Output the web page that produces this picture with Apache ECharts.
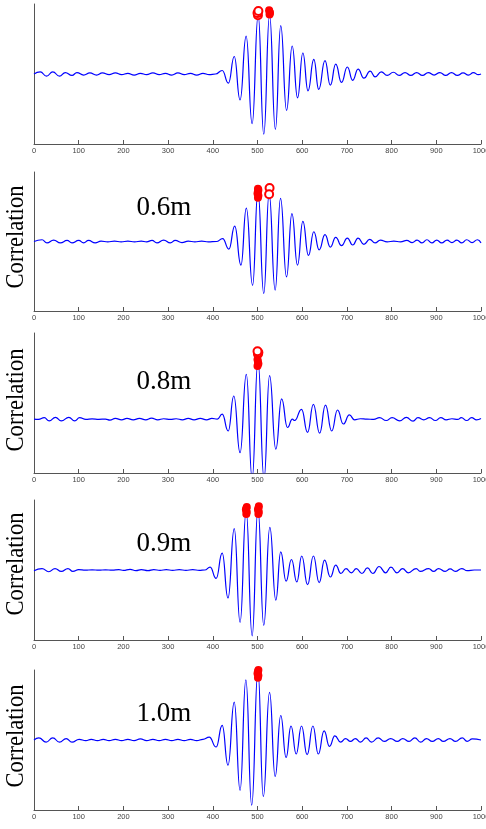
<!DOCTYPE html>
<html>
<head>
<meta charset="utf-8">
<script src="https://cdn.jsdelivr.net/npm/echarts@6/dist/echarts.min.js"></script>
<style>
html,body{margin:0;padding:0;background:#fff;}
#chart{width:486px;height:829px;}
</style>
</head>
<body>
<div id="chart"></div>
<script>
// panel labels
var panelLabels = ['', '0.6m', '0.8m', '0.9m', '1.0m'];
var xTicks = [0, 100, 200, 300, 400, 500, 600, 700, 800, 900, 1000];

// correlation curves, [lag, value]
var waveTop = [[0,0],[14,0.03],[28,-0.03],[42,0.03],[57,-0.03],[70,0.02],[85,-0.02],[96,0.02],[111,-0.015],[125,0.015],[140,-0.015],[153,0.015],[168,-0.01],[182,0.015],[196,-0.01],[210,0.01],[224,-0.015],[238,0.01],[252,-0.01],[266,0.015],[280,-0.01],[294,0.01],[308,-0.015],[322,0.015],[336,-0.01],[350,0.01],[364,-0.015],[378,0.01],[392,-0.01],[406,0],[421,0.05],[435,-0.13],[448,0.25],[461,-0.37],[474.6,0.54],[488,-0.71],[501.5,0.84],[514,-0.86],[527,0.84],[540,-0.79],[552,0.69],[565,-0.52],[577.6,0.40],[589.6,-0.34],[601.5,0.30],[613,-0.24],[626,0.21],[637,-0.22],[651,0.19],[663,-0.16],[675,0.14],[688,-0.12],[701,0.10],[713,-0.09],[725,0.07],[738,-0.06],[752,0.04],[763,-0.04],[777,0.03],[790,-0.02],[804,0.025],[817,-0.02],[830,0.02],[843,-0.02],[856,0.02],[869,-0.02],[882,0.02],[895,-0.015],[908,0.02],[921,-0.02],[934,0.02],[947,-0.02],[960,0.015],[972,-0.015],[983,0.02],[994,-0.01],[1000,0]];
var wave06 = [[0,0],[18,0.025],[29,-0.02],[44,0.02],[59,-0.02],[74,0.015],[85,-0.02],[100,0.015],[111,-0.02],[122,0.015],[137,-0.02],[150,0.005],[165,-0.005],[180,0.005],[195,-0.005],[210,0.005],[225,-0.005],[240,0.005],[252,-0.005],[264,0.015],[275,-0.02],[290,0.02],[305,-0.02],[316,0.015],[331,-0.015],[345,0.005],[360,-0.005],[375,0.005],[390,-0.005],[408,0],[422,0.04],[436,-0.11],[449,0.22],[463,-0.34],[475,0.48],[489,-0.63],[501,0.72],[514,-0.75],[526,0.69],[539.5,-0.70],[551.5,0.62],[565,-0.51],[577,0.40],[589.5,-0.34],[601.5,0.29],[614,-0.20],[626,0.14],[638,-0.12],[651,0.10],[663,-0.08],[675,0.06],[688,-0.06],[701,0.05],[713,-0.05],[725,0.05],[738,-0.04],[751,0.03],[763,-0.02],[775,0.02],[790,-0.005],[805,0.005],[820,-0.005],[834,0.015],[846,-0.015],[857,0.02],[868,-0.02],[879,0.025],[890,-0.02],[901,0.02],[912,-0.02],[924,0.02],[935,-0.015],[946,0.02],[957,-0.02],[968,0.025],[980,-0.015],[992,0.025],[1000,-0.02]];
var wave08 = [[0,0],[10,-0.005],[23,0.02],[34,-0.025],[48,0.025],[61,-0.025],[78,0.025],[91,-0.025],[102,0.02],[116,-0.005],[130,0.003],[145,-0.003],[160,0],[170,-0.015],[182,0.01],[196,-0.01],[208,0.01],[222,-0.01],[236,0.01],[250,-0.01],[263,0.015],[277,-0.01],[290,0.005],[305,-0.005],[318,0.005],[332,-0.01],[345,0.01],[358,-0.01],[372,0.01],[386,-0.01],[398,0.01],[410,0],[421,0.07],[434.5,-0.17],[447,0.33],[461,-0.48],[475,0.64],[488,-0.85],[501,0.83],[514.6,-0.85],[527,0.62],[541,-0.43],[554,0.29],[567,-0.12],[578,0],[583,-0.02],[598.5,0.14],[612,-0.19],[625,0.21],[639,-0.20],[652,0.20],[666,-0.17],[679,0.13],[692,-0.07],[705.6,0.06],[717,-0.01],[730,0.005],[745,0],[760,-0.005],[773,0.02],[788,-0.02],[801,0.02],[818,-0.025],[833,0.025],[848,-0.03],[859,0.02],[872,-0.01],[885,0.02],[898,-0.02],[910,0.02],[922,-0.01],[935,0.005],[948,-0.005],[956,0.02],[968,-0.02],[979,0.02],[990,-0.01],[1000,0.01]];
var wave09 = [[0,-0.01],[18,0.02],[33,-0.025],[47,0.02],[61,-0.02],[76,0.02],[87,-0.02],[100,0.005],[115,-0.003],[130,0.003],[145,-0.003],[160,0.003],[175,-0.003],[190,0.005],[200,-0.005],[215,0.01],[228,-0.01],[240,0.005],[255,-0.01],[268,0.005],[282,-0.005],[296,0.005],[310,-0.005],[325,0.005],[340,-0.005],[355,0.005],[370,-0.005],[382,0],[394,0.04],[407.5,-0.12],[421,0.24],[434,-0.40],[448,0.59],[461,-0.75],[474.6,0.84],[488,-0.94],[501,0.87],[514,-0.79],[527.6,0.61],[541,-0.43],[552,0.26],[564,-0.16],[576,0.15],[588,-0.17],[599,0.20],[612,-0.21],[625,0.20],[638,-0.18],[650,0.14],[663,-0.10],[675,0.07],[686.6,-0.05],[698,0.02],[710,-0.04],[721,0.02],[733.6,-0.05],[746,0.03],[758,-0.05],[772,0.05],[786.6,-0.04],[798.5,0.04],[812,-0.04],[824.6,0.02],[837,-0.04],[855,0.02],[864,-0.02],[883,0.02],[894,-0.02],[905,0.02],[920,-0.02],[931,0.015],[942.5,-0.02],[957,0.02],[969,-0.01],[985,0],[1000,0]];
var wave10 = [[0,0],[11,0.03],[27,-0.03],[42,0.03],[57,-0.03],[72,0.02],[85,-0.03],[101,0.01],[116,-0.01],[128,0.01],[142,-0.01],[155,0.01],[168,-0.01],[182,0.01],[196,-0.01],[210,0.01],[224,-0.01],[238,0.015],[252,-0.01],[266,0.01],[280,-0.01],[294,0.01],[308,-0.01],[322,0.01],[336,-0.01],[350,0.01],[364,-0.01],[378,0.01],[392,0.04],[407.5,-0.10],[421,0.21],[434,-0.36],[448,0.54],[461,-0.72],[474,0.86],[487,-0.93],[501,0.98],[513,-0.81],[527,0.68],[539.5,-0.52],[552,0.35],[564,-0.25],[575,0.20],[586.6,-0.20],[598.5,0.20],[611,-0.21],[624,0.20],[636,-0.20],[649,0.13],[661,-0.09],[673,0.06],[686,-0.03],[697,0.02],[708,-0.02],[719,0.02],[730.6,-0.03],[743,0.03],[755,-0.03],[770,0.03],[783.6,-0.02],[798,0.02],[812.7,-0.02],[825,0.02],[839,-0.02],[852,0.03],[865,-0.03],[878,0.02],[891,-0.02],[904.5,0.02],[915.7,-0.02],[930.6,0.02],[943,-0.02],[958,0.03],[969,-0.02],[980.6,0.015],[1000,0]];

// detected peaks (filled = many overlapping, open = few)
var peaksFilled = [
    [[527,0.85],[528,0.87],[527,0.89],[526,0.91]],
    [[501,0.63],[502,0.66],[500,0.69],[501,0.72],[502,0.74],[501,0.76]],
    [[500,0.76],[502,0.79],[501,0.82],[500,0.85]],
    [[475,0.80],[476,0.83],[474,0.86],[475,0.88],[476,0.90],[502,0.80],[503,0.83],[501,0.86],[502,0.88],[503,0.91]],
    [[501,0.89],[502,0.92],[500,0.95],[501,0.98],[502,1.00]]
];
var peaksOpen = [
    [[501,0.84],[500,0.87],[502,0.90]],
    [[527,0.77],[526,0.68]],
    [[501,0.93],[502,0.95],[500,0.97]],
    [],
    []
];
var waves = [waveTop, wave06, wave08, wave09, wave10];

// 每个子图的位置
var gridTops = [4, 172, 333, 500, 670];
var gridHeights = [140, 139, 140, 140, 140];
var yMins = [-1, -1, -0.77, -1, -1];
var yMaxs = [1, 1, 1.23, 1, 1];
var labelY = [0, 207.5, 381.5, 543.5, 714];
var corrY = [0, 237, 400, 564, 736];

var grids = [], xAxes = [], yAxes = [], series = [], graphics = [];
for (var i = 0; i < waves.length; i++) {
    grids.push({left: 34, right: 5, top: gridTops[i], height: gridHeights[i], outerBoundsMode: 'none', containLabel: false});
    xAxes.push({
        type: 'value', gridIndex: i, min: xTicks[0], max: xTicks[xTicks.length - 1], interval: 100,
        axisLine: {show: true, onZero: false, lineStyle: {color: '#555', width: 1}},
        axisTick: {show: true, inside: true, length: 4, lineStyle: {color: '#555'}},
        axisLabel: {fontSize: 7.5, color: '#444', margin: 3, fontFamily: 'Liberation Sans',
            showMaxLabel: true, showMinLabel: true,
            formatter: function (v) { return String(v); }},
        splitLine: {show: false}
    });
    yAxes.push({
        type: 'value', gridIndex: i, min: yMins[i], max: yMaxs[i],
        axisLine: {show: true, lineStyle: {color: '#555', width: 1}},
        axisTick: {show: false}, axisLabel: {show: false}, splitLine: {show: false}
    });
    series.push({
        type: 'line', xAxisIndex: i, yAxisIndex: i, data: waves[i], z: 2,
        smooth: 0.5, smoothMonotone: 'x', showSymbol: false, symbol: 'none',
        lineStyle: {color: '#0000ff', width: 1.2}, animation: false
    });
    series.push({
        type: 'scatter', xAxisIndex: i, yAxisIndex: i, data: peaksFilled[i], z: 5,
        symbol: 'circle', symbolSize: 8, clip: false,
        itemStyle: {color: '#ff0000', opacity: 1}, animation: false
    });
    series.push({
        type: 'scatter', xAxisIndex: i, yAxisIndex: i, data: peaksOpen[i], z: 5,
        symbol: 'emptyCircle', symbolSize: 8, clip: false,
        itemStyle: {color: '#ff0000', borderColor: '#ff0000', borderWidth: 1, opacity: 1}, animation: false
    });
    if (panelLabels[i]) {
        graphics.push({
            type: 'text', x: 164, y: labelY[i],
            style: {text: panelLabels[i], font: '27px "Liberation Serif"', fill: '#000',
                textAlign: 'center', textVerticalAlign: 'middle'}
        });
        graphics.push({
            type: 'text', x: 16, y: corrY[i], rotation: Math.PI / 2, scaleX: 0.87,
            style: {text: 'Correlation', font: '26px "Liberation Serif"', fill: '#000',
                textAlign: 'center', textVerticalAlign: 'middle'}
        });
    }
}

var chart = echarts.init(document.getElementById('chart'));
chart.setOption({
    animation: false,
    grid: grids,
    xAxis: xAxes,
    yAxis: yAxes,
    series: series,
    graphic: graphics
});
</script>
</body>
</html>
